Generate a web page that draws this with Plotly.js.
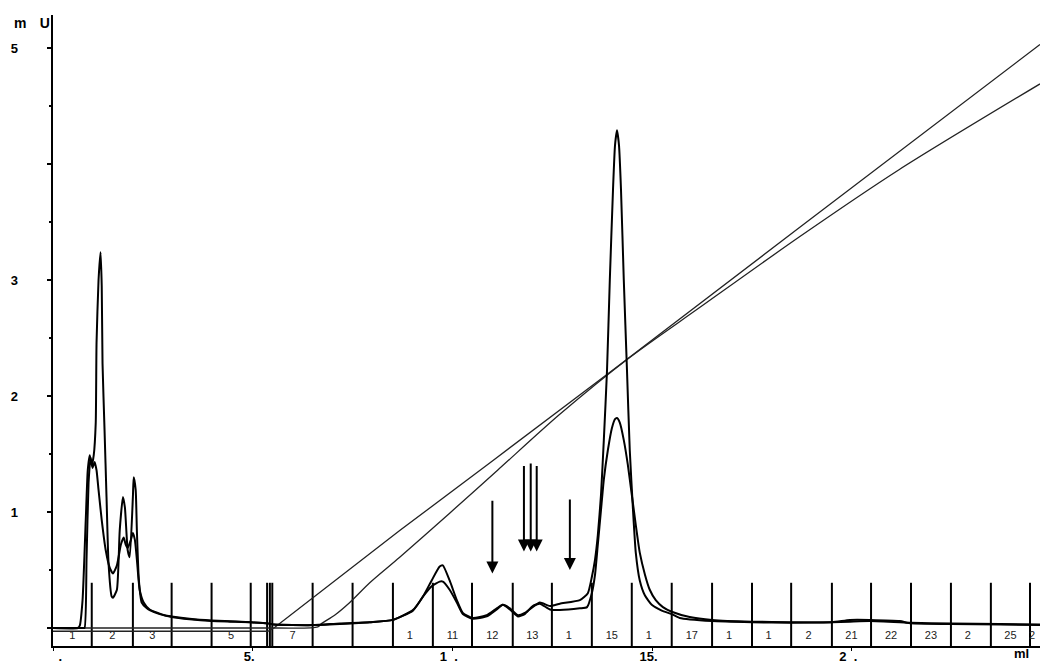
<!DOCTYPE html>
<html><head><meta charset="utf-8">
<script src="https://cdn.plot.ly/plotly-3.0.1.min.js"></script>
<style>html,body{margin:0;padding:0;background:#fff}#chart{width:1040px;height:663px}</style>
</head><body><div id="chart"></div>
<script>
// UV trace 1 (taller peaks), volume in ml / absorbance
const uv1X = [0,0.62,0.67,0.74,0.82,0.87,0.92,0.97,1.02,1.07,1.09,1.14,1.19,1.22,1.24,1.29,1.34,1.39,1.47,1.50,1.60,1.67,1.75,1.80,1.87,1.92,2.00,2.02,2.07,2.10,2.15,2.22,2.35,2.42,2.67,2.97,3.42,3.97,4.43,4.95,5.38,5.53,6.50,7.18,7.93,8.51,9.01,9.26,9.48,9.68,9.76,9.93,10.11,10.26,10.51,10.86,11.11,11.26,11.44,11.64,11.81,12.01,12.19,12.44,12.69,13.19,13.39,13.49,13.57,13.64,13.72,13.79,13.87,13.94,14.02,14.07,14.12,14.17,14.22,14.29,14.37,14.44,14.52,14.59,14.69,14.82,14.99,15.24,15.49,15.69,16.50,17.50,18.48,19.50,19.95,20.45,21.20,21.48,22.48,23.71,24.71];
const uv1Y = [0,0,0.02,0.24,0.93,1.36,1.49,1.40,1.49,1.77,2.46,3.00,3.24,2.95,2.28,1.71,1.13,0.56,0.27,0.26,0.33,0.84,1.13,1.04,0.67,0.61,1.13,1.30,1.19,0.84,0.41,0.22,0.17,0.155,0.12,0.095,0.075,0.06,0.055,0.05,0.04,0.03,0.025,0.04,0.05,0.07,0.155,0.27,0.41,0.53,0.54,0.41,0.24,0.13,0.086,0.11,0.17,0.20,0.17,0.11,0.13,0.18,0.22,0.19,0.21,0.24,0.30,0.44,0.59,0.80,1.15,1.62,2.22,3.00,3.78,4.16,4.29,4.16,3.78,3.00,2.22,1.53,1.02,0.65,0.41,0.28,0.20,0.15,0.12,0.086,0.06,0.05,0.045,0.05,0.055,0.06,0.05,0.045,0.04,0.035,0.03];
// UV trace 2 (lower peaks)
const uv2X = [0,0.62,0.74,0.79,0.84,0.89,0.94,0.99,1.04,1.09,1.14,1.22,1.32,1.42,1.50,1.60,1.70,1.77,1.82,1.87,1.95,2.00,2.05,2.10,2.17,2.27,2.42,2.80,2.97,3.42,3.97,4.95,5.38,5.53,6.50,7.18,7.93,8.51,9.01,9.26,9.48,9.68,9.76,9.93,10.11,10.26,10.51,10.86,11.11,11.26,11.44,11.64,11.81,12.01,12.19,12.44,12.69,13.19,13.37,13.49,13.57,13.64,13.72,13.79,13.89,13.99,14.07,14.12,14.19,14.29,14.39,14.49,14.59,14.69,14.82,14.94,15.09,15.27,15.49,15.94,16.50,17.50,18.48,19.50,19.95,20.45,21.20,21.48,22.48,23.71,24.71];
const uv2Y = [0,0,0,0.0,0.6,1.25,1.47,1.38,1.43,1.36,1.19,0.93,0.67,0.52,0.47,0.54,0.72,0.78,0.72,0.69,0.76,0.82,0.76,0.59,0.33,0.22,0.16,0.11,0.10,0.08,0.065,0.05,0.04,0.03,0.025,0.035,0.05,0.07,0.15,0.27,0.36,0.40,0.40,0.33,0.22,0.12,0.08,0.10,0.16,0.20,0.16,0.10,0.12,0.19,0.21,0.16,0.155,0.17,0.18,0.30,0.46,0.72,1.02,1.28,1.53,1.72,1.80,1.81,1.77,1.62,1.41,1.15,0.89,0.65,0.46,0.33,0.24,0.18,0.14,0.095,0.07,0.055,0.05,0.05,0.07,0.07,0.06,0.04,0.035,0.03,0.025];
// Gradient / conductivity curves
const gradAX = [0,5.38,5.53,8.68,11.00,14.00,18.68,24.71];
const gradAY = [-0.028,-0.028,0.0,0.84,1.44,2.22,3.45,5.03];
const gradBX = [0,5.50,6.63,6.73,7.05,7.43,7.93,8.68,9.93,11.13,12.68,14.43,16.18,18.68,21.18,24.71];
const gradBY = [0,0,0.01,0.04,0.11,0.22,0.39,0.61,0.99,1.36,1.84,2.33,2.76,3.37,3.95,4.69];
// Fraction boundaries (ml) and labels
const fracBounds = [0,0.97,2.0,2.97,3.97,4.95,5.36,5.43,5.49,6.50,7.50,8.51,9.51,10.49,11.51,12.49,13.49,14.49,15.49,16.50,17.50,18.48,19.50,20.48,21.48,22.48,23.48,24.46,24.71];
const fracLabels = ["1","2","3","\u2007","5","\u2007","","","7","\u2007","\u2007","1\u2007","11","12","13","1\u2007","15","1\u2007","17","1\u2007","1\u2007","2\u2007","21","22","23","2\u2007","25","2\u2007"];
// Arrows (ml, tip value, top value)
const arrowX = [11.00,11.79,11.96,12.11,12.94];
const arrowTip = [0.47,0.66,0.66,0.66,0.50];
const arrowTop = [1.11,1.41,1.43,1.41,1.12];
// Axis ticks
const xTickVals = [0,5,10,15,20];
const xTickText = ["\u2007\u2007.","5.\u2007","1\u2007.\u2007","15.\u2007","2\u2007.\u2007"];
const yTickVals = [0,1,2,3,4,5];
const yTickText = ["","1","2","3","","5"];

const yBottom = -0.155, yFracTop = 0.39, yFracLabel = -0.07;

const fx = [], fy = [];
for (let i = 1; i < fracBounds.length - 1; i++) {
  fx.push(fracBounds[i], fracBounds[i], null);
  fy.push(yBottom, yFracTop, null);
}
const midX = [];
for (let i = 0; i < fracLabels.length; i++) midX.push((fracBounds[i] + fracBounds[i+1]) / 2);
const midY = midX.map(() => yFracLabel);

const traces = [
  {x: fx, y: fy, mode: 'lines', line: {color: '#000', width: 2}, hoverinfo: 'skip'},
  {x: midX, y: midY, mode: 'text', text: fracLabels, textfont: {family: 'Liberation Sans, Arial', size: 11, color: '#222'}, cliponaxis: false, hoverinfo: 'skip'},
  {x: gradAX, y: gradAY, mode: 'lines', line: {color: '#222', width: 1.3}},
  {x: gradBX, y: gradBY, mode: 'lines', line: {color: '#222', width: 1.3, shape: 'spline', smoothing: 0.8}},
  {x: uv2X, y: uv2Y, mode: 'lines', line: {color: '#000', width: 2, shape: 'spline', smoothing: 0.5}},
  {x: uv1X, y: uv1Y, mode: 'lines', line: {color: '#000', width: 2, shape: 'spline', smoothing: 0.5}}
];

const annotations = arrowX.map((x, i) => ({
  x: x, y: arrowTip[i], ax: x, ay: arrowTop[i], xref: 'x', yref: 'y', axref: 'x', ayref: 'y',
  showarrow: true, arrowhead: 2, arrowsize: 1.2, arrowwidth: 2, arrowcolor: '#000', text: '', standoff: 0
}));
annotations.push({xref: 'paper', yref: 'paper', x: 0, y: 1, xshift: -41, yshift: -8, xanchor: 'left', yanchor: 'middle',
  text: 'm\u2007\u2009\u2009U', showarrow: false, font: {family: 'Liberation Sans, Arial', size: 14, color: '#000', weight: 'bold'}});
annotations.push({xref: 'paper', yref: 'paper', x: 1, y: 0, xshift: -9, yshift: 2, xanchor: 'right', yanchor: 'top',
  text: 'ml', showarrow: false, font: {family: 'Liberation Sans, Arial', size: 13, color: '#000', weight: 'bold'}});

const layout = {
  width: 1040, height: 663,
  margin: {l: 53, r: 0, t: 15, b: 17, pad: 0},
  paper_bgcolor: '#fff', plot_bgcolor: '#fff',
  showlegend: false,
  xaxis: {range: [0, 24.71], showgrid: false, zeroline: false, showline: true, linecolor: '#000', linewidth: 2,
    ticks: 'outside', ticklen: 3, tickwidth: 1, tickcolor: '#000', tickvals: xTickVals, ticktext: xTickText,
    ticklabelstandoff: -6,
    tickfont: {family: 'Liberation Sans, Arial', size: 13, color: '#000', weight: 'bold'}, fixedrange: true},
  yaxis: {range: [-0.155, 5.284], showgrid: false, zeroline: false, showline: true, linecolor: '#000', linewidth: 2.5,
    ticks: 'outside', ticklen: 4, tickwidth: 1.5, tickcolor: '#000', tickvals: yTickVals, ticktext: yTickText,
    ticklabelstandoff: 26,
    minor: {tickvals: [0.5,1.5,2.5,3.5,4.5], ticks: 'outside', ticklen: 2, tickwidth: 1.5, tickcolor: '#000', showgrid: false},
    tickfont: {family: 'Liberation Sans, Arial', size: 13, color: '#000', weight: 'bold'}, fixedrange: true},
  annotations: annotations
};

Plotly.newPlot('chart', traces, layout, {staticPlot: true, displayModeBar: false});
</script>
</body></html>
